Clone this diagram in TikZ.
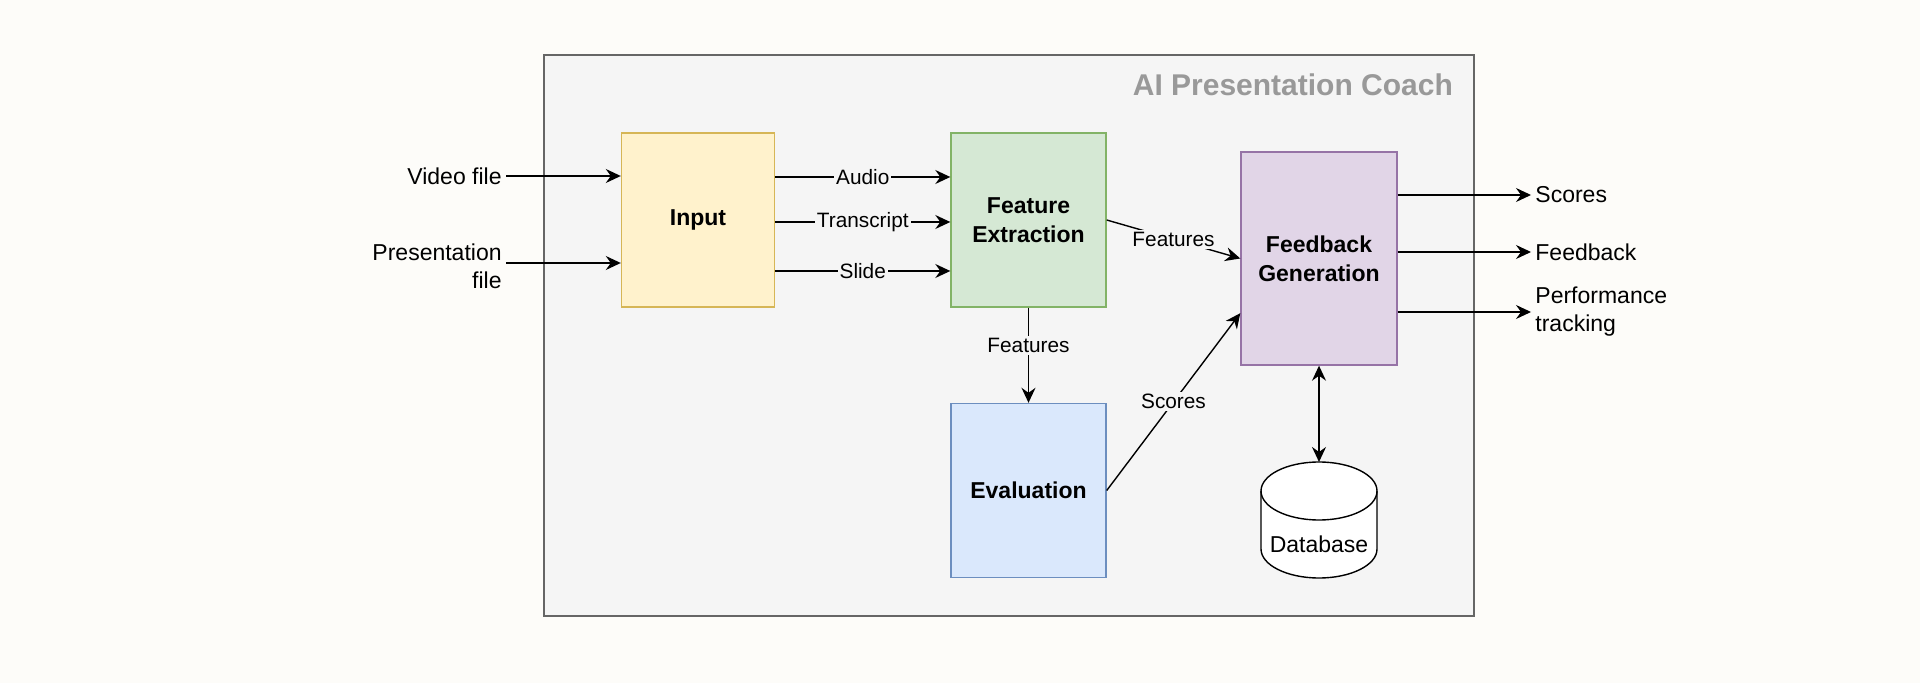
\documentclass[tikz,border=0pt]{standalone}
\usepackage{fontspec}
\setmainfont{Liberation Sans}
\usepackage{tikz}
\usetikzlibrary{arrows.meta}
\usetikzlibrary{calc}
\definecolor{pagebg}{HTML}{FDFCF9}
\definecolor{coachfill}{HTML}{F5F5F5}
\definecolor{coachline}{HTML}{666666}
\definecolor{coachtitle}{HTML}{999999}
\definecolor{inputfill}{HTML}{FFF2CC}
\definecolor{inputline}{HTML}{D6B656}
\definecolor{featfill}{HTML}{D5E8D4}
\definecolor{featline}{HTML}{82B366}
\definecolor{feedfill}{HTML}{E1D5E7}
\definecolor{feedline}{HTML}{9673A6}
\definecolor{evalfill}{HTML}{DAE8FC}
\definecolor{evalline}{HTML}{6C8EBF}
\tikzset{
  stagebox/.style={draw, rectangle, line width=0.7pt, align=center,
    font=\fontsize{11.5}{14.5}\selectfont\bfseries},
  plaintext/.style={inner sep=2pt, font=\fontsize{11.5}{14}\selectfont},
  edgelabel/.style={fill=coachfill, inner sep=1pt, font=\fontsize{10.4}{12}\selectfont},
  flow/.style={line width=0.7pt, -{Stealth[length=7.5pt, width=7pt, inset=2.5pt]}},
  bothflow/.style={line width=0.7pt, {Stealth[length=7.5pt, width=7pt, inset=2.5pt]}-{Stealth[length=7.5pt, width=7pt, inset=2.5pt]}},
  dbline/.style={draw, fill=white, line width=0.7pt},
}

\begin{document}
\begin{tikzpicture}[x=0.5pt, y=-0.5pt]
	\fill[pagebg] (0,0) rectangle (1920,683);
	\useasboundingbox (0,0) rectangle (1920,683);

	% container
	\node[draw=coachline, fill=coachfill, line width=0.9pt, minimum width=465pt, minimum height=280.5pt] (coach) at (1009,335.5) {};
	\node[anchor=east, text=coachtitle, font=\fontsize{15}{18}\selectfont\bfseries] (title) at (1460,85) {AI Presentation Coach};

	% stages
	\node[stagebox, draw=inputline, fill=inputfill, minimum width=76.5pt, minimum height=87pt] (input) at (698,220) {Input};
	\node[stagebox, draw=featline, fill=featfill, minimum width=77.5pt, minimum height=87pt] (feat) at (1028.5,220) {Feature\\Extraction};
	\node[stagebox, draw=feedline, fill=feedfill, minimum width=78pt, minimum height=106.5pt] (feed) at (1319,258.5) {Feedback\\Generation};
	\node[stagebox, draw=evalline, fill=evalfill, minimum width=77.5pt, minimum height=87pt] (eval) at (1028.5,490.5) {Evaluation};

	% database
	\node[inner sep=0pt, outer sep=0pt, minimum width=58pt, minimum height=58pt] (db) at (1319,520) {};
	\draw[dbline] ($(db.west)+(0,-29)$) -- ($(db.west)+(0,29)$)
		arc[start angle=180, end angle=360, x radius=29pt, y radius=14.5pt]
		-- ($(db.east)+(0,-29)$)
		arc[start angle=0, end angle=180, x radius=29pt, y radius=14.5pt] -- cycle;
	\draw[dbline, fill=none] ($(db.west)+(0,-29)$) arc[start angle=180, end angle=360, x radius=29pt, y radius=14.5pt];
	\node[plaintext] (dbtext) at ($(db.center)+(0,24)$) {Database};

	% inputs and outputs
	\node[plaintext, anchor=east] (video) at (506,176) {Video file};
	\node[plaintext, anchor=east, align=right] (pres) at (506,266) {Presentation\\file};
	\node[plaintext, anchor=west] (scores) at (1531,195) {Scores};
	\node[plaintext, anchor=west] (feedback) at (1531,252) {Feedback};
	\node[plaintext, anchor=west, align=left] (perf) at (1531,312) {Performance\\tracking};

	\coordinate (rowA) at (0,177);
	\coordinate (rowT) at (0,222);
	\coordinate (rowS) at (0,271);
	\coordinate (rowP) at (0,263);

	\draw[flow] (video.east) -- (video.east -| input.west);
	\draw[flow] (pres.east |- rowP) -- (input.west |- rowP);

	\draw[flow] (input.east |- rowA) -- node[edgelabel] {Audio} (feat.west |- rowA);
	\draw[flow] (input.east |- rowT) -- node[edgelabel] {Transcript} (feat.west |- rowT);
	\draw[flow] (input.east |- rowS) -- node[edgelabel] {Slide} (feat.west |- rowS);

	\draw[flow] (feat.east) -- node[edgelabel] {Features} (feed.west);
	\draw[flow] (feat.south) -- node[edgelabel, pos=0.4] {Features} (eval.north);
	\draw[flow] (eval.east) -- node[edgelabel] {Scores} ($(feed.north west)!0.755!(feed.south west)$);
	\draw[bothflow] (feed.south) -- (db.north);

	\draw[flow] (feed.east |- scores.west) -- (scores.west);
	\draw[flow] (feed.east |- feedback.west) -- (feedback.west);
	\draw[flow] (feed.east |- perf.west) -- (perf.west);
\end{tikzpicture}
\end{document}
